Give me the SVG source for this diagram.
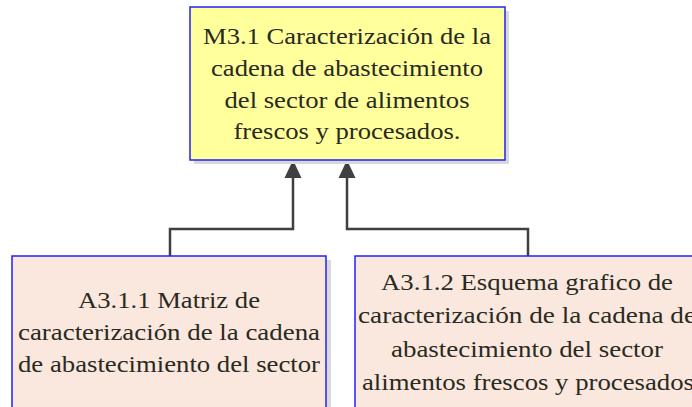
<svg xmlns="http://www.w3.org/2000/svg" width="692" height="407" viewBox="0 0 692 407">
<style>
.shadow{fill:#d9d9d9;}
.top{fill:#ffff9c;stroke:#2020ff;stroke-width:1.5;}
.act{fill:#fae8de;stroke:#2020ff;stroke-width:1.5;}
.t{font-family:"Liberation Serif",serif;font-size:24px;fill:#2a2a22;text-anchor:middle;}
.conn{fill:none;stroke:#404040;stroke-width:2.5;}
.head{fill:#404040;}
</style>
<rect width="692" height="407" fill="#ffffff"/>
<g id="connectors">
<path class="conn" d="M170,256 V229 H293 V176"/>
<path class="head" d="M284.5,178 L293,160 L301.5,178 Z"/>
<path class="conn" d="M528,256 V229 H347 V176"/>
<path class="head" d="M338.5,178 L347,160 L355.5,178 Z"/>
</g>
<g id="M3.1">
<rect class="shadow" x="194" y="11" width="315" height="153"/>
<rect class="top" x="190" y="7" width="315" height="153"/>
<text class="t" lengthAdjust="spacingAndGlyphs"><tspan x="347" y="44" textLength="288" lengthAdjust="spacingAndGlyphs">M3.1 Caracterización de la</tspan></text>
<text class="t"><tspan x="347" y="76" textLength="272" lengthAdjust="spacingAndGlyphs">cadena de abastecimiento</tspan></text>
<text class="t"><tspan x="347" y="108" textLength="245" lengthAdjust="spacingAndGlyphs">del sector de alimentos</tspan></text>
<text class="t"><tspan x="347" y="139" textLength="227" lengthAdjust="spacingAndGlyphs">frescos y procesados.</tspan></text>
</g>
<g id="A3.1.1">
<rect class="shadow" x="16" y="260" width="315" height="160"/>
<rect class="act" x="12" y="256" width="314" height="160"/>
<text class="t"><tspan x="169" y="308" textLength="182" lengthAdjust="spacingAndGlyphs">A3.1.1 Matriz de</tspan></text>
<text class="t"><tspan x="169" y="340" textLength="302" lengthAdjust="spacingAndGlyphs">caracterización de la cadena</tspan></text>
<text class="t"><tspan x="169" y="372" textLength="302" lengthAdjust="spacingAndGlyphs">de abastecimiento del sector</tspan></text>
</g>
<g id="A3.1.2">
<rect class="act" x="355" y="256" width="360" height="160"/>
<text class="t"><tspan x="527" y="290" textLength="292" lengthAdjust="spacingAndGlyphs">A3.1.2 Esquema grafico de</tspan></text>
<text class="t"><tspan x="527" y="323" textLength="338" lengthAdjust="spacingAndGlyphs">caracterización de la cadena de</tspan></text>
<text class="t"><tspan x="527" y="357" textLength="272" lengthAdjust="spacingAndGlyphs">abastecimiento del sector</tspan></text>
<text class="t"><tspan x="528" y="390" textLength="332" lengthAdjust="spacingAndGlyphs">alimentos frescos y procesados</tspan></text>
</g>
</svg>
